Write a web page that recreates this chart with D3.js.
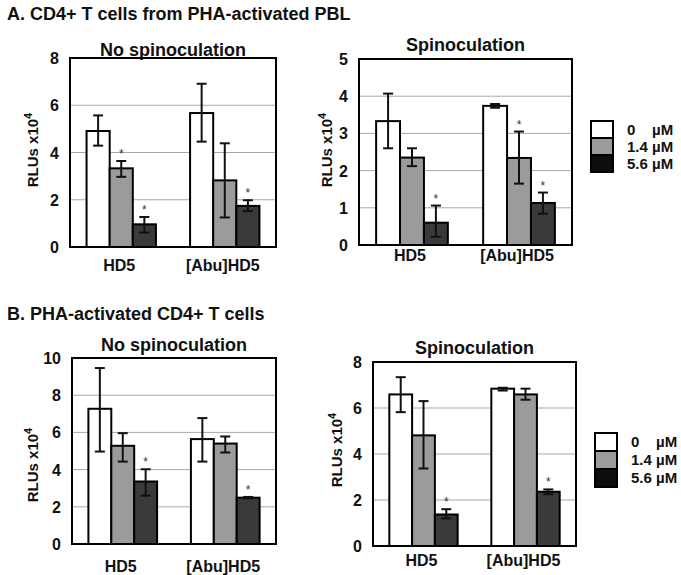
<!DOCTYPE html>
<html lang="en">
<head>
<meta charset="utf-8">
<title>HD5 RLUs</title>
<script src="https://d3js.org/d3.v7.min.js"></script>
<style>
  body { margin: 0; background: #fff; }
  svg text { font-family: "Liberation Sans", Arial, sans-serif; font-weight: bold; fill: #111; }
</style>
</head>
<body>
<div id="chart"></div>
<script>
// categories and series
var groups = ["HD5", "[Abu]HD5"];
var series = ["0    µM", "1.4 µM", "5.6 µM"];
var fills = ["#ffffff", "#9b9b9b", "#3a3a3a"];
var legendFills = ["#ffffff", "#9b9b9b", "#0d0d0d"];

// A, no spinoculation  (rows = groups, cols = series)
var aNoMean = [[4.91, 3.33, 0.96], [5.67, 2.82, 1.74]];
var aNoHi   = [[5.57, 3.64, 1.27], [6.91, 4.39, 1.98]];
var aNoLo   = [[4.29, 2.97, 0.61], [4.46, 1.25, 1.52]];
var aNoStar = [[0, 1, 1], [0, 0, 1]];
// A, spinoculation
var aSpMean = [[3.33, 2.35, 0.60], [3.74, 2.34, 1.13]];
var aSpHi   = [[4.07, 2.60, 1.06], [3.79, 3.05, 1.41]];
var aSpLo   = [[2.60, 2.12, 0.22], [3.69, 1.65, 0.84]];
var aSpStar = [[0, 0, 1], [0, 1, 1]];
// B, no spinoculation
var bNoMean = [[7.27, 5.28, 3.36], [5.64, 5.40, 2.49]];
var bNoHi   = [[9.46, 5.96, 4.02], [6.77, 5.78, 2.53]];
var bNoLo   = [[4.97, 4.43, 2.60], [4.43, 4.92, 2.45]];
var bNoStar = [[0, 0, 1], [0, 0, 1]];
// B, spinoculation
var bSpMean = [[6.59, 4.81, 1.37], [6.84, 6.59, 2.36]];
var bSpHi   = [[7.34, 6.30, 1.60], [6.88, 6.84, 2.46]];
var bSpLo   = [[5.82, 3.37, 1.20], [6.76, 6.36, 2.25]];
var bSpStar = [[0, 0, 1], [0, 0, 1]];

var ticksA1 = [0, 2, 4, 6, 8];
var ticksA2 = [0, 1, 2, 3, 4, 5];
var ticksB1 = [0, 2, 4, 6, 8, 10];
var ticksB2 = [0, 2, 4, 6, 8];

var svg = d3.select("#chart").append("svg")
  .attr("width", 681)
  .attr("height", 575);

svg.append("text").attr("x", 7).attr("y", 20).style("font-size", "18px")
  .text("A. CD4+ T cells from PHA-activated PBL");
svg.append("text").attr("x", 7).attr("y", 320).style("font-size", "18px")
  .text("B. PHA-activated CD4+ T cells");

function panel(p) {
  var x0 = d3.scaleBand().domain(groups)
    .range([p.x, p.x + p.w]).paddingInner(0.33).paddingOuter(0.16);
  var x1 = d3.scaleBand().domain(d3.range(series.length))
    .range([0, x0.bandwidth()]);
  var y = d3.scaleLinear().domain([0, d3.max(p.ticks)])
    .range([p.y + p.h, p.y]);

  var g = svg.append("g");

  g.selectAll(".grid").data(p.ticks.slice(1, -1)).enter().append("line")
    .attr("x1", p.x).attr("x2", p.x + p.w)
    .attr("y1", function(d) { return y(d); })
    .attr("y2", function(d) { return y(d); })
    .attr("stroke", "#a8a8a8").attr("stroke-width", 1);

  g.selectAll(".tick").data(p.ticks).enter().append("text")
    .attr("x", p.x - 11)
    .attr("y", function(d) { return y(d) + 6; })
    .attr("text-anchor", "end")
    .style("font-size", "16px")
    .text(function(d) { return d; });

  var grp = g.selectAll(".grp").data(groups).enter().append("g")
    .attr("transform", function(d) { return "translate(" + x0(d) + ",0)"; });

  grp.selectAll("rect").data(function(d, i) { return p.mean[i]; })
    .enter().append("rect")
    .attr("x", function(d, j) { return x1(j); })
    .attr("width", x1.bandwidth())
    .attr("y", function(d) { return y(d); })
    .attr("height", function(d) { return y(0) - y(d); })
    .attr("fill", function(d, j) { return fills[j]; })
    .attr("stroke", "#000").attr("stroke-width", 2);

  grp.each(function(gname, i) {
    var gg = d3.select(this);
    p.mean[i].forEach(function(m, j) {
      var cx = x1(j) + x1.bandwidth() / 2;
      var hi = p.hi[i][j], lo = p.lo[i][j];
      gg.append("line").attr("x1", cx).attr("x2", cx)
        .attr("y1", y(hi)).attr("y2", y(lo))
        .attr("stroke", "#111").attr("stroke-width", 2);
      [hi, lo].forEach(function(v) {
        gg.append("line").attr("x1", cx - 5).attr("x2", cx + 5)
          .attr("y1", y(v)).attr("y2", y(v))
          .attr("stroke", "#111").attr("stroke-width", 2);
      });
      if (p.star[i][j]) {
        gg.append("text").attr("x", cx).attr("y", y(hi) - 3)
          .attr("text-anchor", "middle")
          .style("font-size", "12px").style("font-weight", "normal")
          .style("fill", "#333")
          .text("*");
      }
    });
  });

  g.append("rect").attr("x", p.x).attr("y", p.y)
    .attr("width", p.w).attr("height", p.h)
    .attr("fill", "none").attr("stroke", "#000").attr("stroke-width", 2);

  g.selectAll(".cat").data(groups).enter().append("text")
    .attr("x", function(d) { return x0(d) + x0.bandwidth() / 2 - 2; })
    .attr("y", p.catY)
    .attr("text-anchor", "middle")
    .style("font-size", "16px")
    .text(function(d) { return d; });

  g.append("text")
    .attr("x", p.x + p.w / 2).attr("y", p.titleY)
    .attr("text-anchor", "middle")
    .style("font-size", "18px")
    .text(p.title);

  var yl = g.append("text")
    .attr("transform", "translate(" + (p.labX + 5) + "," + p.labY + ") rotate(-90)")
    .attr("text-anchor", "middle")
    .style("font-size", "15px");
  yl.append("tspan").text("RLUs x10");
  yl.append("tspan").attr("dy", -6).style("font-size", "11px").text("4");
}

panel({ x: 70, y: 58, w: 206, h: 189, ticks: ticksA1, mean: aNoMean, hi: aNoHi, lo: aNoLo, star: aNoStar,
  title: "No spinoculation", titleY: 56, catY: 271, labX: 33, labY: 150 });
panel({ x: 359, y: 59, w: 213, h: 186, ticks: ticksA2, mean: aSpMean, hi: aSpHi, lo: aSpLo, star: aSpStar,
  title: "Spinoculation", titleY: 51, catY: 261, labX: 327, labY: 150 });
panel({ x: 72, y: 358, w: 204, h: 186, ticks: ticksB1, mean: bNoMean, hi: bNoHi, lo: bNoLo, star: bNoStar,
  title: "No spinoculation", titleY: 351, catY: 572, labX: 33, labY: 465 });
panel({ x: 373, y: 362, w: 203, h: 184, ticks: ticksB2, mean: bSpMean, hi: bSpHi, lo: bSpLo, star: bSpStar,
  title: "Spinoculation", titleY: 354, catY: 566, labX: 337, labY: 450 });

function legend(lx, ly, cellH) {
  var lg = svg.append("g");
  lg.selectAll("rect").data(series).enter().append("rect")
    .attr("x", lx).attr("y", function(d, i) { return ly + i * cellH; })
    .attr("width", 22).attr("height", cellH)
    .attr("fill", function(d, i) { return legendFills[i]; })
    .attr("stroke", "#000").attr("stroke-width", 2);
  lg.selectAll("text").data(series).enter().append("text")
    .attr("x", lx + 36)
    .attr("y", function(d, i) { return ly + i * cellH + cellH / 2 + 5; })
    .style("font-size", "15px").style("white-space", "pre")
    .text(function(d) { return d; });
}
legend(591, 121, 17);
legend(595, 433, 18);
</script>
</body>
</html>
